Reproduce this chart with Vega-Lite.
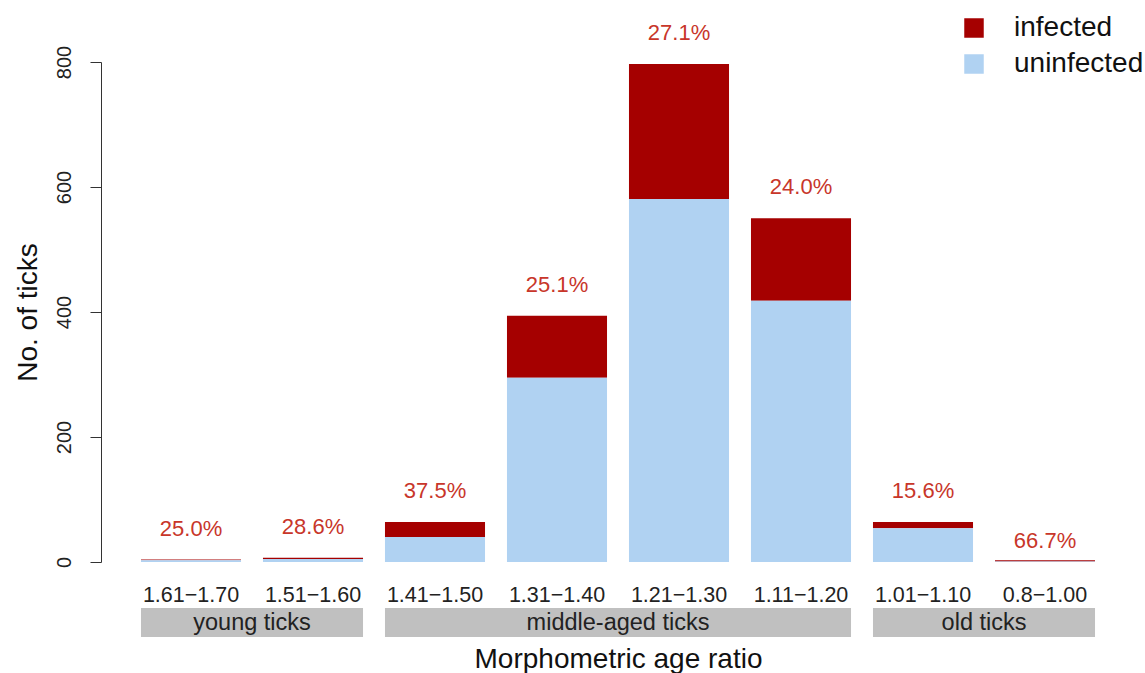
{
  "$schema": "https://vega.github.io/schema/vega-lite/v6.json",
  "background": "white",
  "padding": {"left": 14, "top": 14, "right": 2, "bottom": 0},
  "config": {
    "font": "Liberation Sans",
    "view": {"stroke": null},
    "axis": {"labelColor": "#222222", "titleColor": "#111111", "titleFontWeight": "normal", "grid": false}
  },
  "datasets": {
    "ticks": [
      {"age": "1.61−1.70", "infected": 1, "uninfected": 3},
      {"age": "1.51−1.60", "infected": 2, "uninfected": 5},
      {"age": "1.41−1.50", "infected": 24, "uninfected": 40},
      {"age": "1.31−1.40", "infected": 99, "uninfected": 295},
      {"age": "1.21−1.30", "infected": 216, "uninfected": 581},
      {"age": "1.11−1.20", "infected": 132, "uninfected": 418},
      {"age": "1.01−1.10", "infected": 10, "uninfected": 54},
      {"age": "0.8−1.00", "infected": 2, "uninfected": 1}
    ],
    "stages": [
      {"stage": "young ticks", "first": "1.61−1.70", "last": "1.51−1.60", "mid": "1.61−1.70"},
      {"stage": "middle-aged ticks", "first": "1.41−1.50", "last": "1.11−1.20", "mid": "1.31−1.40"},
      {"stage": "old ticks", "first": "1.01−1.10", "last": "0.8−1.00", "mid": "1.01−1.10"}
    ]
  },
  "bounds": "flush",
  "spacing": 46,
  "resolve": {"scale": {"x": "shared"}},
  "vconcat": [
    {
      "width": 976,
      "height": 500,
      "data": {"name": "ticks"},
      "encoding": {
        "x": {
          "field": "age",
          "type": "nominal",
          "sort": null,
          "scale": {
            "domain": ["1.61−1.70", "1.51−1.60", "1.41−1.50", "1.31−1.40", "1.21−1.30", "1.11−1.20", "1.01−1.10", "0.8−1.00"],
            "paddingInner": 0.18,
            "paddingOuter": 0.09
          },
          "axis": {
            "title": null,
            "labelAngle": 0,
            "labelFontSize": 21.5,
            "labelPadding": 22,
            "ticks": false,
            "domain": false
          }
        }
      },
      "layer": [
        {
          "transform": [{"fold": ["infected", "uninfected"], "as": ["status", "count"]}],
          "mark": {"type": "bar"},
          "encoding": {
            "y": {
              "field": "count",
              "type": "quantitative",
              "stack": "zero",
              "scale": {"domain": [0, 800], "nice": false},
              "axis": {
                "title": "No. of ticks",
                "titleFontSize": 28,
                "titlePadding": 12,
                "values": [0, 200, 400, 600, 800],
                "offset": 29,
                "tickSize": 11,
                "tickColor": "#333333",
                "domainColor": "#333333",
                "labelAngle": 270,
                "labelAlign": "center",
                "labelBaseline": "bottom",
                "labelFontSize": 20,
                "labelPadding": 16
              }
            },
            "color": {
              "field": "status",
              "type": "nominal",
              "scale": {"domain": ["infected", "uninfected"], "range": ["#A50000", "#B0D2F2"]},
              "legend": {
                "title": null,
                "orient": "none",
                "legendX": 830,
                "legendY": -48,
                "symbolType": "square",
                "symbolSize": 380,
                "symbolStrokeWidth": 0,
                "labelFontSize": 28,
                "labelColor": "#111111",
                "labelOffset": 26,
                "rowPadding": 8,
                "padding": 0
              }
            },
            "order": {"field": "status", "sort": "descending"}
          }
        },
        {
          "transform": [
            {"calculate": "datum.infected + datum.uninfected", "as": "total"},
            {"calculate": "format(datum.infected / datum.total, '.1%')", "as": "pct"},
            {"filter": "datum.age !== '0.8−1.00'"}
          ],
          "mark": {"type": "text", "dy": -31, "fontSize": 22, "color": "#C8362A"},
          "encoding": {
            "y": {"field": "total", "type": "quantitative"},
            "text": {"field": "pct"}
          }
        },
        {
          "transform": [
            {"calculate": "datum.infected + datum.uninfected", "as": "total"},
            {"calculate": "format(datum.infected / datum.total, '.1%')", "as": "pct"},
            {"filter": "datum.age === '0.8−1.00'"}
          ],
          "mark": {"type": "text", "dy": -19, "fontSize": 22, "color": "#C8362A"},
          "encoding": {
            "y": {"field": "total", "type": "quantitative"},
            "text": {"field": "pct"}
          }
        }
      ]
    },
    {
      "width": 976,
      "height": 29,
      "data": {"name": "stages"},
      "layer": [
        {
          "mark": {"type": "rect", "color": "#C0C0C0"},
          "encoding": {
            "x": {
              "field": "first",
              "type": "nominal",
              "bandPosition": 0,
              "scale": {
                "domain": ["1.61−1.70", "1.51−1.60", "1.41−1.50", "1.31−1.40", "1.21−1.30", "1.11−1.20", "1.01−1.10", "0.8−1.00"],
                "paddingInner": 0.18,
                "paddingOuter": 0.09
              },
              "axis": {
                "title": "Morphometric age ratio",
                "titleFontSize": 28,
                "titlePadding": 8,
                "labels": false,
                "ticks": false,
                "domain": false
              }
            },
            "x2": {"field": "last", "bandPosition": 1}
          }
        },
        {
          "mark": {"type": "text", "fontSize": 23.5, "color": "#222222", "baseline": "middle"},
          "encoding": {
            "x": {"field": "mid", "type": "nominal", "bandPosition": 1.11},
            "text": {"field": "stage"}
          }
        }
      ]
    }
  ]
}
